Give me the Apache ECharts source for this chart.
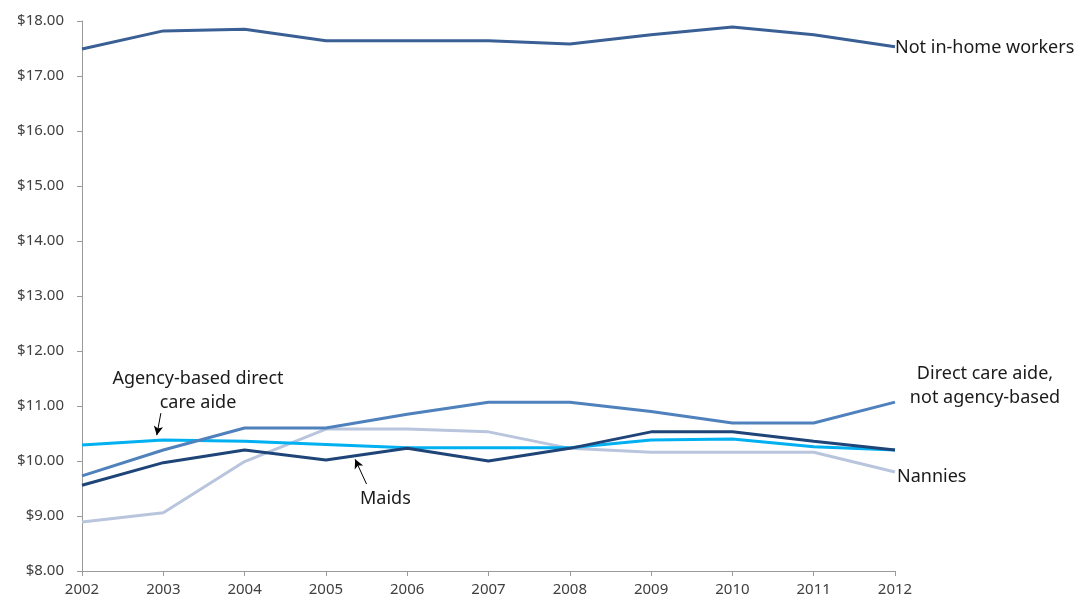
<!DOCTYPE html>
<html><head><meta charset="utf-8">
<script src="https://cdn.jsdelivr.net/npm/echarts@6/dist/echarts.min.js"></script>
<style>html,body{margin:0;padding:0;background:#fff}#c{width:1077px;height:602px}</style>
</head><body><div id="c"></div>
<script>
const years = [2002,2003,2004,2005,2006,2007,2008,2009,2010,2011,2012];
const notInHome = [17.49,17.82,17.85,17.64,17.64,17.64,17.58,17.75,17.89,17.75,17.53];
const directNotAgency = [9.73,10.20,10.60,10.60,10.85,11.07,11.07,10.90,10.69,10.69,11.07];
const maids = [9.56,9.97,10.20,10.02,10.23,10.00,10.23,10.53,10.53,10.36,10.20];
const agencyAide = [10.29,10.38,10.36,10.30,10.24,10.24,10.24,10.38,10.40,10.26,10.20];
const nannies = [8.89,9.06,9.99,10.58,10.58,10.53,10.23,10.16,10.16,10.16,9.80];
const yTicks = {min: 8, max: 18, interval: 1};

const FONT = 'Noto Sans';
const chart = echarts.init(document.getElementById('c'));
const pair = arr => years.map((y,i)=>[y, arr[i]]);
function line(name, data, color){
  return {name, type:'line', data: pair(data), symbol:'none', smooth:false,
    lineStyle:{color, width:3}, itemStyle:{color}, z: 2};
}
const axisCol = '#9a9a9a';
const arrowStyle = {color:'#000', width:1, type:'solid'};
const seriesList = [
  line('Nannies', nannies, '#b8c5dd'),
  line('Agency-based direct care aide', agencyAide, '#00b0f0'),
  line('Direct care aide, not agency-based', directNotAgency, '#4f81bd'),
  line('Maids', maids, '#1f4478'),
  line('Not in-home workers', notInHome, '#3a5f95'),
  {type:'line', data:[], silent:true,
    markLine:{silent:true, symbol:['none','arrow'], symbolSize:[7,9], label:{show:false},
      lineStyle:arrowStyle,
      data:[
        [{coord:[2002.97,10.87]},{coord:[2002.92,10.47]}],
        [{coord:[2005.50,9.58]},{coord:[2005.36,10.03]}]
      ]}}
];
const T = {fontSize:18, fill:'#1a1a1a', fontFamily:FONT};
chart.setOption({
  animation:false,
  textStyle:{fontFamily:FONT},
  grid:{left:82, right:182, top:21, bottom:31, containLabel:false},
  xAxis:{type:'value', min:2002, max:2012, interval:1,
    axisLine:{show:true, lineStyle:{color:axisCol, width:1}},
    axisTick:{show:true, length:5, lineStyle:{color:axisCol}},
    splitLine:{show:false},
    axisLabel:{color:'#404040', fontSize:15, margin:11, fontFamily:FONT, formatter:v=>String(v)}},
  yAxis:{type:'value', min:yTicks.min, max:yTicks.max, interval:yTicks.interval,
    axisLine:{show:true, lineStyle:{color:axisCol, width:1}},
    axisTick:{show:true, length:5, lineStyle:{color:axisCol}},
    splitLine:{show:false},
    axisLabel:{color:'#404040', fontSize:15, margin:18, fontFamily:FONT, formatter:v=>'$'+v.toFixed(2)}},
  series: seriesList,
  graphic:[
    {type:'text', left:895, top:39, style:Object.assign({text:'Not in-home workers'}, T)},
    {type:'text', left:897, top:468, style:Object.assign({text:'Nannies'}, T)},
    {type:'text', x:985, y:362, style:Object.assign({text:'Direct care aide,\nnot agency-based', lineHeight:24, align:'center'}, T)},
    {type:'text', x:198, y:367, style:Object.assign({text:'Agency-based direct\ncare aide', lineHeight:24, align:'center'}, T)},
    {type:'text', left:360, top:490, style:Object.assign({text:'Maids'}, T)}
  ]
});
</script></body></html>
